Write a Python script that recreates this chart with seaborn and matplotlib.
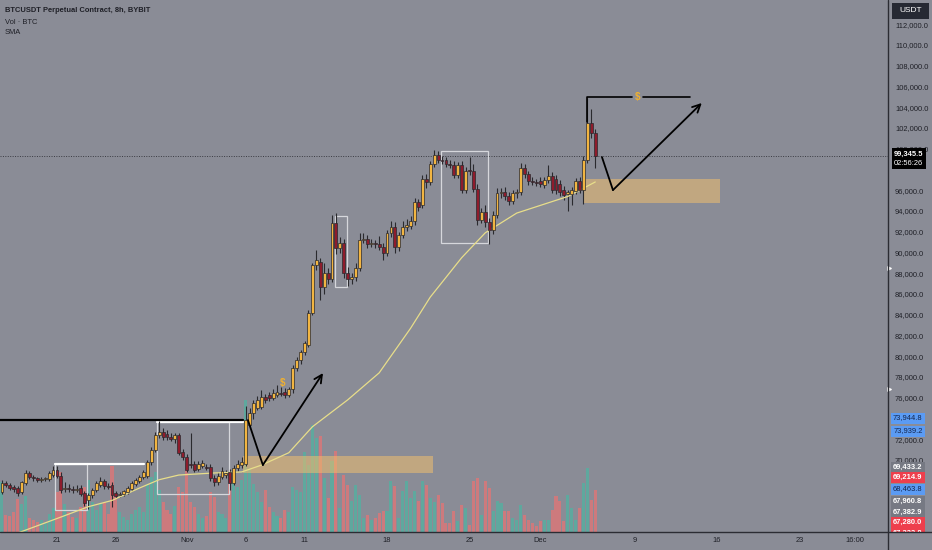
import numpy as np
import pandas as pd
import seaborn as sns
import matplotlib.pyplot as plt
from matplotlib.patches import Rectangle
from matplotlib.lines import Line2D

# BTCUSDT perpetual (BYBIT), 8h candles, index 0 = 16 Oct 00:00
opens = [67200, 66900, 67800, 67600, 67400, 67300, 66900, 67800, 68700, 68400,
         68250, 68100, 68200, 68200, 68600, 69000, 68500, 67200, 67300, 67200,
         67100, 67300, 66800, 66100, 66600, 67100, 67600, 68000, 67500, 67600,
         66800, 66600, 66700, 66900, 67200, 67700, 68000, 68400, 68500, 69800,
         71000, 72400, 72700, 72500, 72200, 72000, 72400, 70800, 70300, 69600,
         69600, 69100, 69400, 69300, 69300, 68300, 67900, 68400, 68600, 68800,
         67800, 69200, 69500, 69600, 73400, 74500, 75000, 75100, 76100, 76300,
         76000, 76300, 76500, 76600, 76300, 76800, 78900, 79600, 80400, 81100,
         84200, 88800, 89100, 86700, 88000, 87400, 92800, 90400, 90900, 88000,
         87400, 87600, 88500, 91200, 91300, 90800, 90900, 90800, 90500, 90000,
         91900, 92500, 90500, 91700, 92500, 92600, 93000, 94900, 94600, 97100,
         96800, 98500, 99400, 98900, 98900, 98500, 98400, 97500, 98400, 96000,
         97900, 97900, 96100, 93100, 93900, 92900, 92200, 93600, 95700, 95800,
         95400, 95000, 95700, 95800, 98100, 97600, 96900, 96800, 96900, 96500,
         97000, 97400, 97100, 96600, 96000, 95600, 95600, 95900, 96900, 96000,
         98900, 102500, 101500]
highs = [67500, 68100, 68000, 67800, 67600, 67500, 68000, 69000, 68900, 68600,
         68400, 68400, 68400, 68900, 69400, 69400, 68800, 67900, 67700, 67500,
         67600, 67600, 67000, 66800, 67300, 68000, 68400, 68200, 67800, 67900,
         67000, 66900, 67100, 67500, 68000, 68300, 68600, 69000, 70000, 71300,
         72700, 73800, 73100, 72900, 72600, 72600, 72600, 71100, 70600, 72600,
         69900, 69900, 70000, 69600, 69600, 68600, 68800, 69300, 69000, 69100,
         69500, 70000, 70300, 75200, 75000, 75800, 76200, 76700, 76400, 76600,
         76800, 77200, 77000, 76900, 77000, 79200, 79900, 80600, 81500, 84500,
         89000, 90200, 89500, 89000, 88500, 93600, 93800, 91500, 91300, 88600,
         88000, 89000, 91900, 91900, 91700, 91300, 91200, 91600, 90900, 92200,
         93000, 92900, 92000, 93000, 93200, 93500, 95300, 95200, 97500, 97600,
         98800, 99900, 99800, 99300, 99200, 98900, 98800, 98700, 98800, 98200,
         99200, 98500, 96600, 94300, 94600, 93300, 94000, 96200, 96200, 96300,
         95800, 96000, 96100, 98600, 98500, 97900, 97300, 97100, 97300, 97300,
         98400, 97800, 97500, 97000, 96400, 96000, 96300, 97200, 97300, 99300,
         104900, 103800, 101900]
lows = [66700, 66700, 67400, 67100, 66900, 66500, 66700, 67600, 68200, 68000,
        67900, 67900, 68000, 68000, 68400, 68300, 66800, 66900, 66900, 66800,
        66900, 66500, 65600, 65300, 66300, 66900, 67400, 67200, 67200, 65500,
        66300, 66400, 66500, 66700, 67000, 67500, 67800, 68200, 68300, 69500,
        70800, 72100, 71900, 71900, 71800, 71600, 70500, 70000, 68800, 69200,
        68800, 68900, 69200, 69000, 68000, 67500, 67600, 68200, 68300, 67100,
        67600, 68900, 69200, 69400, 73200, 74000, 74800, 74900, 75500, 75700,
        75800, 76100, 76200, 76000, 76100, 76500, 78600, 79300, 80100, 80900,
        84000, 88300, 85400, 86000, 87000, 87200, 89900, 90000, 87500, 86800,
        87000, 87300, 88200, 90900, 90400, 90500, 90400, 90200, 89300, 89700,
        91500, 90000, 90100, 91400, 92100, 92300, 92700, 94000, 94300, 96200,
        96500, 98200, 98600, 98500, 98200, 98100, 97200, 97200, 95700, 95700,
        97500, 95800, 92700, 92800, 92500, 90800, 91800, 93300, 95300, 95100,
        94600, 94700, 95300, 95500, 97200, 96500, 96500, 96400, 96300, 96200,
        96700, 95700, 95600, 95400, 95100, 94000, 94600, 95600, 95700, 94700,
        98600, 101000, 98100]
closes = [66900, 67800, 67600, 67300, 67200, 66800, 67900, 68700, 68400, 68250,
          68100, 68200, 68250, 68700, 69000, 68500, 67100, 67300, 67200, 67100,
          67250, 66700, 65900, 66600, 67100, 67800, 68000, 67500, 67350, 66600,
          66500, 66700, 67000, 67300, 67800, 68100, 68400, 68800, 69800, 71000,
          72400, 72700, 72200, 72200, 72000, 72400, 70700, 70300, 69000, 69500,
          69000, 69600, 69700, 69200, 68300, 67900, 68500, 68900, 68700, 67800,
          69200, 69600, 69800, 73900, 74500, 75500, 75800, 76100, 75800, 76000,
          76500, 76600, 76400, 76300, 76800, 78900, 79600, 80400, 81300, 84200,
          88800, 89300, 86700, 88000, 87400, 92800, 90400, 90900, 88000, 87400,
          87600, 88500, 91200, 91300, 90800, 90900, 90800, 90500, 90000, 91900,
          92500, 90500, 91700, 92500, 92700, 93000, 94900, 94400, 97100, 96800,
          98500, 99400, 98900, 98800, 98500, 98400, 97500, 98400, 96000, 97900,
          97850, 96100, 93100, 93900, 92900, 92200, 93600, 95700, 95800, 95400,
          95000, 95700, 95800, 98100, 97600, 96900, 96800, 96700, 96600, 97000,
          97400, 96000, 96000, 95800, 95500, 95800, 96000, 96900, 96000, 98900,
          102500, 101500, 99345.5]
# volume, thousand BTC
volume = [2.2, 5.0, 1.7, 1.6, 2.0, 3.3, 2.8, 3.6, 1.4, 1.2,
          1.0, 1.2, 0.9, 1.8, 2.4, 4.0, 6.0, 2.8, 2.0, 1.5,
          1.4, 2.5, 4.5, 5.2, 3.0, 2.2, 2.8, 3.0, 1.8, 6.6,
          3.5, 2.0, 1.5, 1.2, 1.8, 2.2, 2.5, 2.0, 4.8, 5.5,
          6.0, 4.2, 3.0, 2.2, 1.8, 2.6, 4.5, 4.0, 6.2, 3.0,
          2.5, 1.8, 1.4, 1.6, 4.0, 3.5, 2.0, 1.8, 1.4, 4.8,
          5.0, 4.5, 5.2, 13.2, 6.4, 4.8, 4.0, 3.0, 4.2, 2.5,
          2.0, 1.6, 1.4, 2.2, 2.0, 4.5, 4.2, 4.0,
          8.0, 6.7, 10.7, 9.4, 9.6, 5.4, 3.4, 7.1, 8.1, 2.4,
          5.7, 4.7, 3.1, 4.7, 3.7, 1.4, 1.7, 1.2, 1.4, 1.9,
          2.1, 2.1, 5.1, 4.6, 1.4, 4.1, 5.1, 3.4, 4.1, 3.1,
          5.1, 4.7, 3.4, 3.0, 3.7, 2.9, 0.9, 0.9, 2.1, 1.1,
          2.7, 2.4, 0.7, 5.1, 5.4, 1.7, 5.1, 4.4, 2.1, 3.1,
          2.9, 2.1, 2.1, 1.4, 1.2, 2.7, 1.7, 1.2, 0.9, 0.6,
          1.1, 1.2, 1.2, 2.2, 3.6, 3.1, 1.1, 3.7, 2.4, 1.2,
          2.4, 4.9, 6.4, 3.2, 4.2]

sma_idx = [0, 6, 16, 23, 29, 36, 41, 46, 55, 62, 67, 74, 80, 89, 97, 105, 110, 118, 124, 132, 145, 152]
sma_val = [62300, 63100, 64500, 65500, 66100, 67300, 68100, 68550, 68750, 68850, 69500, 70700,
           73200, 75800, 78400, 82700, 85700, 89500, 91900, 93800, 95400, 96800]

# price-scale ticks (74k and 98k sit under the price tags)
price_ticks = [70000, 72000, 76000, 78000, 80000, 82000, 84000, 86000, 88000, 90000,
               92000, 94000, 96000, 100000, 102000, 104000, 106000, 108000, 110000, 112000]
date_ticks = [15, 30, 48, 63, 78, 99, 120, 138, 162, 183, 204, 218]
date_labels = ['21', '26', 'Nov', '6', '11', '18', '25', 'Dec', '9', '16', '23', '16:00']

last_price = 99345.5
# price-scale tags, stacked as on the chart
tag_pos = [74047, 72794, 69324, 68360, 67203, 66046, 64986, 64022, 62960]
tag_text = ['73,944.8', '73,939.2', '69,433.2', '69,214.9', '68,463.8', '67,960.8',
            '67,382.9', '67,280.0', '67,222.8']
tag_kind = ['blue', 'blue', 'gray', 'red', 'blue', 'gray', 'gray', 'red', 'red']

BG = '#8a8c96'
UP = '#f2b541'
DN = '#8e1c2c'
EDGE = '#2a2a2e'
VOL_UP = '#5fa89e'
VOL_DN = '#cd7a7d'
TXT = '#1f2027'
TAG = {'blue': ('#5b9bf3', '#13254d', 'normal'),
       'red': ('#ee3f4d', 'white', 'bold'),
       'gray': ('#767983', 'white', 'bold')}
FS = 5.4

sns.set_style('white', {'axes.facecolor': BG, 'figure.facecolor': BG})
plt.rcParams['font.family'] = ['Liberation Sans', 'DejaVu Sans']

df = pd.DataFrame({'o': opens, 'h': highs, 'l': lows, 'c': closes, 'v': volume})
df['i'] = np.arange(len(df))
up = df.c >= df.o

XLIM = (0.5, 226.5)
YLIM = (63060, 114340)
rect = [0, 18 / 550, 888 / 932, 532 / 550]

fig = plt.figure(figsize=(9.32, 5.5), dpi=100)
fig.patch.set_facecolor(BG)

# volume pane behind the price pane
axv = fig.add_axes(rect)
axv.bar(df.i, df.v, width=0.78, color=np.where(up, VOL_UP, VOL_DN), linewidth=0)
axv.set_xlim(XLIM)
axv.set_ylim(0, 53.2)
axv.axis('off')

ax = fig.add_axes(rect)
ax.patch.set_alpha(0)

# zones
ax.add_patch(Rectangle((62.3, 68700), 48.4, 1700, facecolor='#f0be6e', alpha=0.55, lw=0, zorder=2))
ax.add_patch(Rectangle((148.9, 94770), 34.8, 2310, facecolor='#f0be6e', alpha=0.55, lw=0, zorder=2))

# boxes
box_kw = dict(fill=False, edgecolor='#d6d7dc', lw=0.9, zorder=2.5)
ax.add_patch(Rectangle((14.5, 65180), 8.1, 4430, **box_kw))
ax.add_patch(Rectangle((40.4, 66720), 18.4, 6940, **box_kw))
ax.add_patch(Rectangle((85.7, 86700), 3.1, 6800, **box_kw))
ax.add_patch(Rectangle((112.7, 90900), 12.0, 8880, **box_kw))
ax.plot([14.5, 37.1], [69610, 69610], color='white', lw=1.6, zorder=2.6)
ax.plot([40.4, 62.3], [73660, 73660], color='white', lw=1.6, zorder=2.6)

# candles
ax.vlines(df.i, df.l, df.h, color=EDGE, lw=0.8, zorder=3)
body = (df.c - df.o).abs().clip(lower=80)
ax.bar(df.i, body, bottom=np.minimum(df.o, df.c), width=0.74,
       color=np.where(up, UP, DN), edgecolor=EDGE, linewidth=0.5, zorder=4)

sns.lineplot(x=sma_idx, y=sma_val, ax=ax, color='#e8de8a', lw=0.9, zorder=3.5)

ax.axhline(last_price, color='#3a3b42', lw=0.7, ls=(0, (1, 1.5)), zorder=2)

# drawings
ax.plot([0.5, 62.3], [73900, 73900], color='black', lw=1.6, zorder=5)
ax.plot([63.6, 67.4], [73850, 69520], color='black', lw=1.3, zorder=5)
arw = dict(arrowstyle='->', color='black', lw=1.3, mutation_scale=14, shrinkA=0, shrinkB=0)
ax.annotate('', xy=(82.7, 78380), xytext=(67.4, 69520), arrowprops=arw, zorder=5)
ax.plot([153.7, 156.5], [99200, 96020], color='black', lw=1.3, zorder=5)
ax.annotate('', xy=(179.1, 104410), xytext=(156.5, 96020), arrowprops=arw, zorder=5)
ax.plot([149.9, 149.9, 161.3], [102600, 105000, 105000], color='black', lw=1.2, zorder=5)
ax.plot([164.1, 176.1], [105000, 105000], color='black', lw=1.2, zorder=5)
ax.text(162.8, 105000, '$', color='#f0b030', fontsize=7, fontweight='bold', ha='center', va='center', zorder=6)
ax.text(72.5, 77400, '$', color='#f0b030', fontsize=7, fontweight='bold', ha='center', va='center', zorder=6)

ax.set_xlim(XLIM)
ax.set_ylim(YLIM)
ax.yaxis.tick_right()
ax.set_yticks(price_ticks)
ax.set_yticklabels([f'{p:,.1f}' for p in price_ticks])
ax.set_xticks(date_ticks)
ax.set_xticklabels(date_labels)
ax.tick_params(axis='both', length=0, labelsize=FS, colors=TXT)
ax.tick_params(axis='y', pad=5)
ax.tick_params(axis='x', pad=3.5)
ax.set_xlabel('')
ax.set_ylabel('')
for s in ax.spines.values():
    s.set_visible(False)

# price scale tags
axp = fig.add_axes([888 / 932, 18 / 550, 44 / 932, 532 / 550])
axp.set_xlim(0, 1)
axp.set_ylim(YLIM)
axp.axis('off')
for p, t, k in zip(tag_pos, tag_text, tag_kind):
    bg, fg, fw = TAG[k]
    axp.add_patch(Rectangle((0.06, p - 530), 0.78, 1060, facecolor=bg, lw=0))
    axp.text(0.45, p, t, color=fg, fontsize=FS, fontweight=fw, ha='center', va='center', clip_on=True)
axp.add_patch(Rectangle((0.08, 98050), 0.78, 2050, facecolor='black', lw=0))
axp.text(0.47, 99430, f'{last_price:,.1f}', color='white', fontsize=FS, fontweight='bold', ha='center', va='center')
axp.text(0.47, 98540, '02:56:26', color='white', fontsize=FS, ha='center', va='center')
axp.scatter([0.03, 0.03], [88500, 76850], marker='>', s=6, color='white', clip_on=False)

fig.add_artist(Line2D([888 / 932, 888 / 932], [0, 1], color='#2b2c33', lw=1.0))
fig.add_artist(Line2D([0, 1], [18 / 550, 18 / 550], color='#2b2c33', lw=1.0))
fig.add_artist(Rectangle((892 / 932, 1 - 19 / 550), 37 / 932, 16 / 550, transform=fig.transFigure,
                         facecolor='#262933', lw=0))
fig.text(910.5 / 932, 1 - 11 / 550, 'USDT', color='white', fontsize=6, ha='center', va='center')

fig.text(5 / 932, 1 - 10 / 550, 'BTCUSDT Perpetual Contract, 8h, BYBIT', color=TXT, fontsize=5.4,
         fontweight='bold', va='center')
fig.text(5 / 932, 1 - 22 / 550, 'Vol · BTC', color=TXT, fontsize=5.4, va='center')
fig.text(5 / 932, 1 - 33 / 550, 'SMA', color=TXT, fontsize=5.4, va='center')

fig.savefig('out.png', dpi=100, facecolor=BG)
